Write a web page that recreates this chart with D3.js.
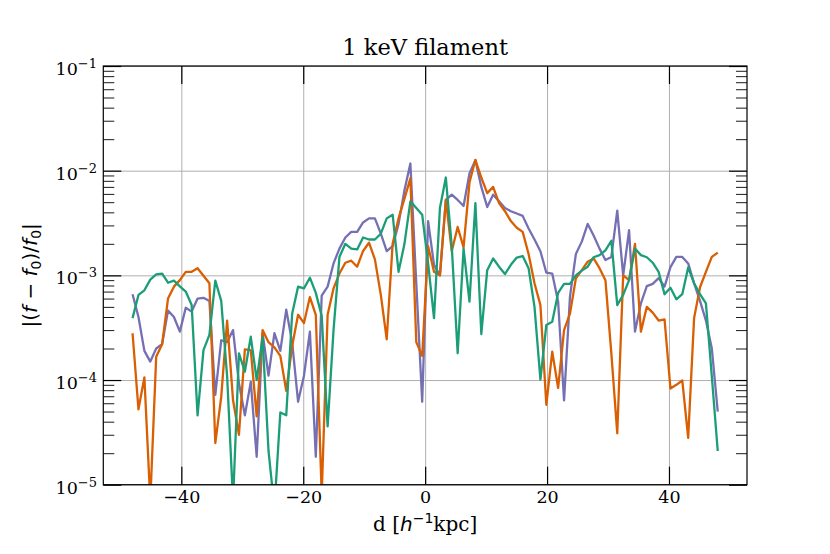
<!DOCTYPE html>
<html>
<head>
<meta charset="utf-8">
<script src="https://cdn.jsdelivr.net/npm/d3@7/dist/d3.min.js"></script>
<style>
body { margin: 0; background: #ffffff; }
svg { display: block; }
text { font-family: "DejaVu Serif", serif; fill: #000000; }
.sans { font-family: "DejaVu Sans", sans-serif; }
.sans-it { font-family: "DejaVu Sans", sans-serif; font-style: italic; }
</style>
</head>
<body>
<div id="chart"></div>
<script>

// sample positions along the filament, 100 points from -48 to 48 h^-1 kpc
var nPoints = 100;
var dFirst = -48;
var dLast = 48;
var positions = d3.range(nPoints).map(function(i){ return dFirst + i * (dLast - dFirst) / (nPoints - 1); });

// |(f - f0)/f0| (values under 1e-5 leave the frame)
var purpleValues = [
    6.6e-4, 4.0e-4, 1.9e-4, 1.5e-4, 2.0e-4, 2.2e-4, 4.6e-4, 4.0e-4, 2.9e-4, 4.9e-4,
    4.5e-4, 6.0e-4, 6.1e-4, 5.7e-4, 7.2e-5, 2.4e-4, 2.3e-4, 3.0e-4, 9.3e-5, 4.6e-5,
    9.6e-5, 1.85e-5, 2.8e-4, 1.1e-4, 2.8e-4, 1.9e-4, 4.7e-4, 2.3e-4, 6.2e-5, 1.1e-4,
    2.9e-4, 1.85e-5, 6.4e-4, 7.8e-4, 1.3e-3, 1.8e-3, 2.3e-3, 2.6e-3, 2.6e-3, 3.2e-3,
    3.5e-3, 3.5e-3, 2.5e-3, 1.7e-3, 1.9e-3, 3.1e-3, 6.5e-3, 1.17e-2, 8.4e-4, 6.2e-5,
    3.3e-3, 1.26e-3, 1.0e-3, 5.25e-3, 5.9e-3, 5.25e-3, 4.6e-3, 9.4e-3, 1.26e-2, 7.0e-3,
    4.5e-3, 5.9e-3, 5.1e-3, 4.4e-3, 4.1e-3, 3.9e-3, 3.7e-3, 2.8e-3, 2.2e-3, 1.7e-3,
    1.06e-3, 1.04e-3, 5.6e-4, 6.4e-5, 6.25e-4, 1.6e-3, 2.1e-3, 3.1e-3, 2.4e-3, 1.8e-3,
    1.4e-3, 1.5e-3, 4.15e-3, 1.0e-3, 2.7e-3, 2.9e-4, 5.4e-4, 7.9e-4, 8.3e-4, 9.4e-4,
    7.8e-4, 1.2e-3, 1.5e-3, 1.5e-3, 1.3e-3, 8.4e-4, 5.7e-4, 3.7e-4, 2.0e-4, 5.0e-5
];
var orangeValues = [
    2.8e-4, 5.25e-5, 1.06e-4, 7.0e-6, 1.67e-4, 2.2e-4, 6.0e-4, 7.8e-4, 9.0e-4, 1.08e-3,
    1.08e-3, 1.17e-3, 9.9e-4, 8.4e-4, 2.5e-5, 6.9e-5, 3.7e-4, 6.4e-5, 3.0e-5, 1.96e-4,
    1.93e-4, 4.5e-5, 3.0e-4, 2.3e-4, 2.05e-4, 1.7e-4, 7.9e-5, 2.1e-4, 4.2e-4, 3.5e-4,
    6.2e-4, 4.2e-4, 8.0e-6, 4.2e-4, 7.5e-4, 1.04e-3, 1.32e-3, 1.38e-3, 1.21e-3, 1.71e-3,
    2.05e-3, 1.42e-3, 6.5e-4, 2.45e-4, 2.0e-3, 3.5e-3, 5.4e-3, 8.45e-3, 2.3e-4, 1.7e-4,
    1.9e-3, 1.08e-3, 1.0e-3, 5.25e-3, 1.7e-3, 2.9e-3, 1.85e-3, 7.7e-3, 1.27e-2, 8.6e-3,
    6.1e-3, 7.0e-3, 4.9e-3, 4.1e-3, 3.3e-3, 2.85e-3, 2.6e-3, 1.6e-3, 8.4e-4, 5.2e-4,
    5.8e-5, 1.87e-4, 8.4e-5, 3.0e-4, 4.3e-4, 9.35e-4, 1.12e-3, 1.35e-3, 1.45e-3, 1.17e-3,
    9.0e-4, 1.8e-4, 3.1e-5, 1.0e-3, 9.0e-4, 2.0e-3, 2.9e-4, 5.0e-4, 4.4e-4, 3.7e-4,
    3.8e-4, 8.3e-5, 9.0e-5, 9.9e-5, 2.8e-5, 3.9e-4, 7.7e-4, 1.08e-3, 1.5e-3, 1.65e-3
];
var greenValues = [
    3.9e-4, 6.5e-4, 7.2e-4, 9.1e-4, 1.02e-3, 1.04e-3, 8.5e-4, 8.9e-4, 7.85e-4, 7.0e-4,
    5.2e-4, 4.6e-5, 1.93e-4, 2.7e-4, 8.9e-4, 5.7e-4, 1.08e-4, 7.0e-6, 1.8e-4, 1.2e-4,
    2.6e-4, 1.0e-4, 2.55e-4, 2.1e-5, 6.0e-6, 4.9e-5, 4.6e-5, 4.3e-4, 7.8e-4, 7.5e-4,
    9.5e-4, 6.8e-4, 4.1e-4, 3.6e-5, 3.0e-4, 1.5e-3, 2.0e-3, 1.8e-3, 1.77e-3, 2.3e-3,
    2.2e-3, 2.2e-3, 2.5e-3, 3.5e-3, 3.8e-3, 1.08e-3, 2.0e-3, 5.1e-3, 4.4e-3, 3.8e-3,
    1.3e-3, 3.9e-4, 4.4e-3, 8.6e-3, 1.9e-3, 1.8e-4, 1.8e-3, 5.6e-4, 4.9e-3, 2.75e-4,
    1.12e-3, 1.45e-3, 1.21e-3, 1.03e-3, 1.26e-3, 1.48e-3, 1.53e-3, 1.17e-3, 5.0e-4, 1.01e-4,
    3.35e-4, 3.6e-4, 6.8e-4, 8.3e-4, 8.3e-4, 1.0e-3, 1.11e-3, 1.21e-3, 1.49e-3, 1.56e-3,
    1.73e-3, 2.14e-3, 5.2e-4, 6.5e-4, 9.0e-4, 1.8e-3, 1.56e-3, 1.49e-3, 1.32e-3, 1.08e-3,
    6.6e-4, 7.6e-4, 5.9e-4, 6.6e-4, 1.19e-3, 8.4e-4, 6.6e-4, 5.4e-4, 1.08e-4, 2.1e-5
];

var seriesColors = ["#7570b3", "#d95f02", "#1b9e77"];
var seriesValues = [purpleValues, orangeValues, greenValues];

var xDomain = [-52.8, 52.8];
var yDomain = [1e-5, 1e-1];
var xTicks = [-40, -20, 0, 20, 40];
var yTicks = [1e-5, 1e-4, 1e-3, 1e-2, 1e-1];

var titleText = "1 keV filament";


FilamentChart = function(container){

    this.container = container;

    this.config = {
        full_width: 830,
        full_height: 554,
        margin: {left: 103.3, top: 66, right: 83, bottom: 69.3},
        tick_font: "17.5px",
        sup_font: "13px",
        label_font: "20px",
        major_tick: 18,
        minor_tick: 11
    };

    this._init();

};

FilamentChart.prototype._init = function(){

    this._build_graph();
    this._draw_grid();
    this._draw_lines();
    this._draw_axes();
    this._draw_frame();
    this._draw_labels();

};

FilamentChart.prototype._build_graph = function(){

    var config = this.config;

    this.width = config.full_width - config.margin.left - config.margin.right;
    this.height = config.full_height - config.margin.top - config.margin.bottom;

    this._svg = d3.select(this.container)
        .append("svg")
        .attr("width", config.full_width)
        .attr("height", config.full_height);

    this._chart = this._svg
        .append("g")
        .attr("transform", "translate(" + config.margin.left + "," + config.margin.top + ")");

    this.x = d3.scaleLinear().domain(xDomain).range([0, this.width]);
    this.y = d3.scaleLog().domain(yDomain).range([this.height, 0]);

    this._svg.append("defs")
        .append("clipPath")
        .attr("id", "plot-clip")
        .append("rect")
        .attr("width", this.width)
        .attr("height", this.height);

};

FilamentChart.prototype._draw_grid = function(){

    var grid = this._chart.append("g").attr("class", "grid");

    grid.append("g")
        .attr("transform", "translate(0," + this.height + ")")
        .call(d3.axisBottom(this.x).tickValues(xTicks).tickSize(-this.height).tickFormat(""));

    grid.append("g")
        .call(d3.axisLeft(this.y).tickValues(yTicks).tickSize(-this.width).tickFormat(""));

    grid.selectAll(".domain").remove();
    grid.selectAll("line")
        .attr("stroke", "#b0b0b0")
        .attr("stroke-width", 1);

};

FilamentChart.prototype._draw_lines = function(){

    var self = this;

    var line = d3.line()
        .x(function(d){ return self.x(d[0]); })
        .y(function(d){ return self.y(d[1]); });

    var layer = this._chart.append("g").attr("clip-path", "url(#plot-clip)");

    seriesValues.forEach(function(values, i){
        layer.append("path")
            .datum(d3.zip(positions, values))
            .attr("fill", "none")
            .attr("stroke", seriesColors[i])
            .attr("stroke-width", 2.3)
            .attr("stroke-linejoin", "round")
            .attr("d", line);
    });

};

FilamentChart.prototype._draw_axes = function(){

    var config = this.config;

    var minorTicks = [];
    yTicks.slice(0, -1).forEach(function(t){
        for (var m = 2; m < 10; m++) minorTicks.push(t * m);
    });

    var axes = this._chart.append("g").attr("class", "axes");

    this._xAxis = axes.append("g")
        .attr("transform", "translate(0," + this.height + ")")
        .call(d3.axisBottom(this.x).tickValues(xTicks).tickSizeInner(-config.major_tick)
            .tickSizeOuter(0).tickPadding(6)
            .tickFormat(function(d){ return d < 0 ? "\u2212" + Math.abs(d) : String(d); }));

    axes.append("g")
        .call(d3.axisTop(this.x).tickValues(xTicks).tickSizeInner(-config.major_tick)
            .tickSizeOuter(0).tickFormat(""));

    this._yAxis = axes.append("g")
        .call(d3.axisLeft(this.y).tickValues(yTicks).tickSizeInner(-config.major_tick)
            .tickSizeOuter(0).tickPadding(6.3));

    axes.append("g")
        .call(d3.axisLeft(this.y).tickValues(minorTicks).tickSizeInner(-config.minor_tick)
            .tickSizeOuter(0).tickFormat(""))
        .selectAll("line").attr("stroke-width", 0.9);

    axes.append("g")
        .attr("transform", "translate(" + this.width + ",0)")
        .call(d3.axisRight(this.y).tickValues(yTicks).tickSizeInner(-config.major_tick)
            .tickSizeOuter(0).tickFormat(""));

    axes.append("g")
        .attr("transform", "translate(" + this.width + ",0)")
        .call(d3.axisRight(this.y).tickValues(minorTicks).tickSizeInner(-config.minor_tick)
            .tickSizeOuter(0).tickFormat(""))
        .selectAll("line").attr("stroke-width", 0.9);

    axes.selectAll(".domain").remove();
    axes.selectAll("g").attr("font-family", null).attr("font-size", null);
    axes.selectAll(".tick line:not([stroke-width])").attr("stroke-width", 1.2);
    axes.selectAll(".tick text").style("font-size", config.tick_font);

    // 10^n labels with a raised exponent
    this._yAxis.selectAll(".tick text")
        .attr("dy", "0.48em")
        .each(function(v){
            var t = d3.select(this).text(null);
            t.append("tspan").text("10");
            t.append("tspan")
                .attr("dy", -7)
                .style("font-size", config.sup_font)
                .text("\u2212" + Math.round(-Math.log10(v)));
        });

};

FilamentChart.prototype._draw_frame = function(){

    this._chart.append("rect")
        .attr("width", this.width)
        .attr("height", this.height)
        .attr("fill", "none")
        .attr("stroke", "#000000")
        .attr("stroke-width", 1.2);

};

FilamentChart.prototype._draw_labels = function(){

    var config = this.config;
    var cx = this.width / 2;

    this._chart.append("text")
        .attr("x", cx)
        .attr("y", -11)
        .attr("text-anchor", "middle")
        .style("font-size", "22.5px")
        .text(titleText);

    var xlabel = this._chart.append("text")
        .attr("x", cx)
        .attr("y", this.height + 46)
        .attr("text-anchor", "middle")
        .style("font-size", config.label_font);
    xlabel.append("tspan").text("d [");
    xlabel.append("tspan").attr("class", "sans-it").text("h");
    xlabel.append("tspan").attr("class", "sans").attr("dy", -8).style("font-size", "14px").text("\u22121");
    xlabel.append("tspan").attr("dy", 8).text("kpc]");

    var ylabel = this._chart.append("text")
        .attr("class", "sans")
        .attr("text-anchor", "middle")
        .attr("transform", "translate(" + (37 - config.margin.left) + "," + (this.height / 2) + ") rotate(-90)")
        .style("font-size", config.label_font);
    ylabel.append("tspan").text("|(");
    ylabel.append("tspan").attr("class", "sans-it").text("f");
    ylabel.append("tspan").text(" \u2212 ");
    ylabel.append("tspan").attr("class", "sans-it").text("f");
    ylabel.append("tspan").attr("dy", 4).style("font-size", "14px").text("0");
    ylabel.append("tspan").attr("dy", -4).text(")/");
    ylabel.append("tspan").attr("class", "sans-it").text("f");
    ylabel.append("tspan").attr("dy", 4).style("font-size", "14px").text("0");
    ylabel.append("tspan").attr("dy", -4).text("|");

};

new FilamentChart("#chart");

</script>
</body>
</html>
